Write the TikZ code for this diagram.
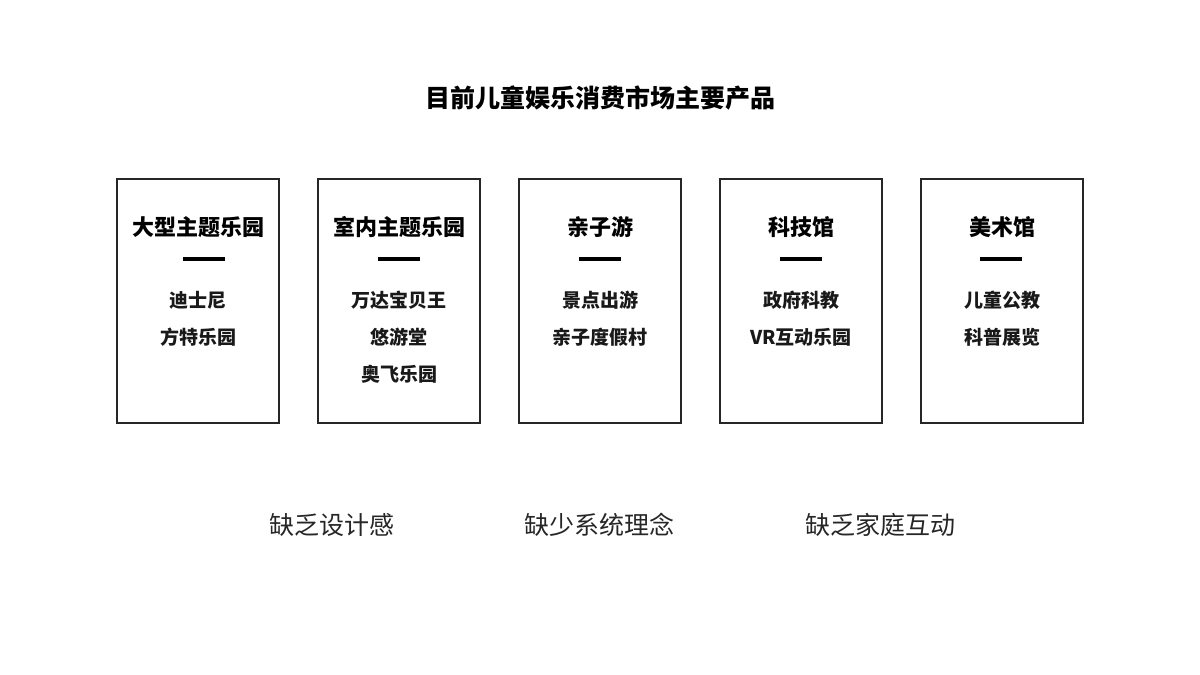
\documentclass[tikz,border=0pt]{standalone}
\usepackage{fontspec}
\usepackage{tikz}
\usetikzlibrary{positioning}
\newfontfamily\cjk{Noto Sans CJK SC}
\tikzset{panel/.style={draw=black!85, line width=1.2pt, minimum width=162pt, minimum height=244pt, inner sep=0pt},
	head/.style={font=\cjk\bfseries\fontsize{22}{22}\selectfont, inner sep=0pt},
	item/.style={font=\cjk\bfseries\fontsize{19}{19}\selectfont, inner sep=0pt, text=black!90},
	lack/.style={font=\cjk\fontsize{25}{25}\selectfont, inner sep=0pt, text=black!85},
	bar/.style={line width=3.4pt, black}}

\begin{document}
\begin{tikzpicture}[x=1pt, y=-1pt]
		\useasboundingbox (0,0) rectangle (1200,675);
		
		\node[font=\cjk\bfseries\fontsize{25}{25}\selectfont, inner sep=0pt] (title) at (600,98) {目前儿童娱乐消费市场主要产品};
		
		\node[panel] (p1) at (198,301) {};
		\node[head] (h1) at (198,227) {大型主题乐园};
		\draw[bar] (183,259) coordinate (b1l) -- (225,259) coordinate (b1r);
		\node[item] (i11) at (198,300) {迪士尼};
		\node[item] (i12) at (198,337) {方特乐园};
		
		\node[panel] (p2) at (399,301) {};
		\node[head] (h2) at (399,227) {室内主题乐园};
		\draw[bar] (378,259) coordinate (b2l) -- (420,259) coordinate (b2r);
		\node[item] (i21) at (399,300) {万达宝贝王};
		\node[item] (i22) at (399,337) {悠游堂};
		\node[item] (i23) at (399,374) {奥飞乐园};
		
		\node[panel] (p3) at (600,301) {};
		\node[head] (h3) at (600,227) {亲子游};
		\draw[bar] (579,259) coordinate (b3l) -- (621,259) coordinate (b3r);
		\node[item] (i31) at (600,300) {景点出游};
		\node[item] (i32) at (600,337) {亲子度假村};
		
		\node[panel] (p4) at (801,301) {};
		\node[head] (h4) at (801,227) {科技馆};
		\draw[bar] (780,259) coordinate (b4l) -- (822,259) coordinate (b4r);
		\node[item] (i41) at (801,300) {政府科教};
		\node[item] (i42) at (801,337) {VR互动乐园};
		
		\node[panel] (p5) at (1002,301) {};
		\node[head] (h5) at (1002,227) {美术馆};
		\draw[bar] (980,259) coordinate (b5l) -- (1022,259) coordinate (b5r);
		\node[item] (i51) at (1002,300) {儿童公教};
		\node[item] (i52) at (1002,337) {科普展览};
		
		\node[lack] (l1) at (332,525) {缺乏设计感};
		\node[lack] (l2) at (599,525) {缺少系统理念};
		\node[lack] (l3) at (880,525) {缺乏家庭互动};
	\end{tikzpicture}
\end{document}
